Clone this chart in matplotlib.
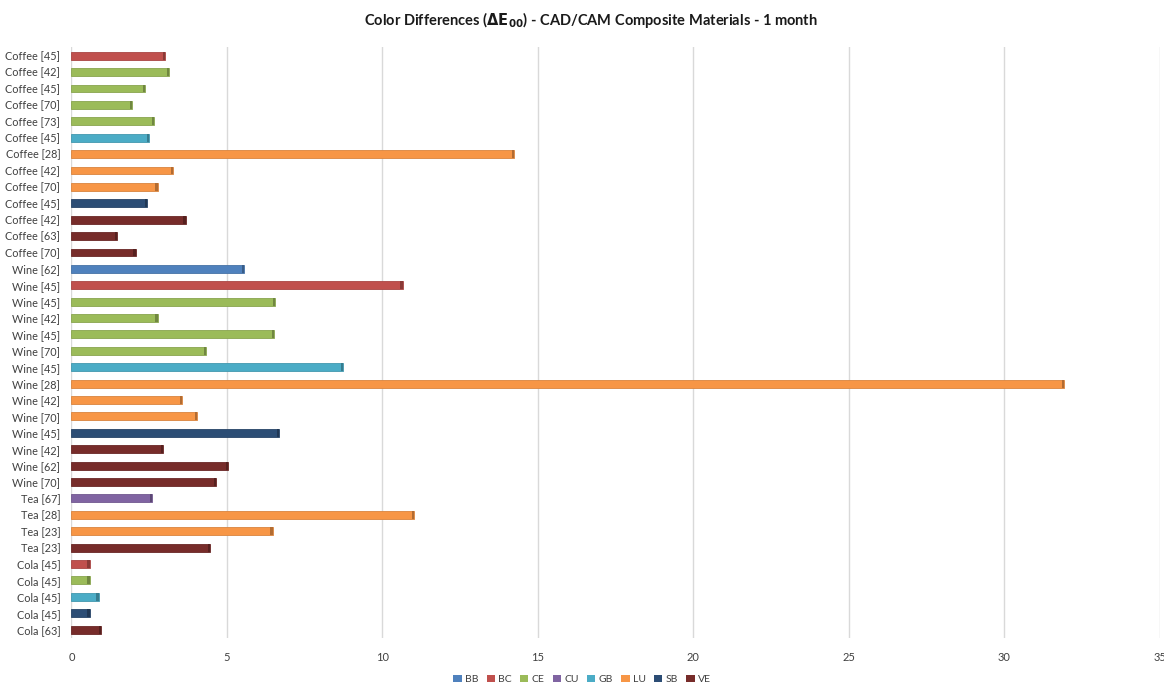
import matplotlib
matplotlib.use("Agg")
import matplotlib.pyplot as plt
from matplotlib.patches import Patch
from matplotlib.colors import to_rgb

plt.rcParams['font.family'] = ['Lato', 'DejaVu Sans']

# Staining solution [days] for each bar, top to bottom
labels = [
    "Coffee [45]", "Coffee [42]", "Coffee [45]", "Coffee [70]", "Coffee [73]",
    "Coffee [45]", "Coffee [28]", "Coffee [42]", "Coffee [70]", "Coffee [45]",
    "Coffee [42]", "Coffee [63]", "Coffee [70]",
    "Wine [62]", "Wine [45]", "Wine [45]", "Wine [42]", "Wine [45]", "Wine [70]",
    "Wine [45]", "Wine [28]", "Wine [42]", "Wine [70]", "Wine [45]", "Wine [42]",
    "Wine [62]", "Wine [70]",
    "Tea [67]", "Tea [28]", "Tea [23]", "Tea [23]",
    "Cola [45]", "Cola [45]", "Cola [45]", "Cola [45]", "Cola [63]",
]

# Material of each bar
materials = [
    "BC", "CE", "CE", "CE", "CE", "GB", "LU", "LU", "LU", "SB", "VE", "VE", "VE",
    "BB", "BC", "CE", "CE", "CE", "CE", "GB", "LU", "LU", "LU", "SB", "VE", "VE", "VE",
    "CU", "LU", "LU", "VE",
    "BC", "CE", "GB", "SB", "VE",
]

# Colour difference ΔE00 after 1 month
delta_e = [
    3.0, 3.15, 2.38, 1.96, 2.67, 2.5, 14.25, 3.28, 2.77, 2.44, 3.67, 1.48, 2.06,
    5.56, 10.65, 6.56, 2.77, 6.53, 4.34, 8.75, 31.92, 3.57, 4.05, 6.69, 2.96, 5.05, 4.66,
    2.6, 11.03, 6.47, 4.47,
    0.58, 0.58, 0.87, 0.58, 0.96,
]

series = ["BB", "BC", "CE", "CU", "GB", "LU", "SB", "VE"]
colors = {
    "BB": "#4F81BD", "BC": "#C0504D", "CE": "#9BBB59", "CU": "#8064A2",
    "GB": "#4BACC6", "LU": "#F79646", "SB": "#2C4D75", "VE": "#772C2A",
}


def shade(c, f):
    r, g, b = to_rgb(c)
    return (r * f, g * f, b * f)


fig = plt.figure(figsize=(11.64, 6.88), dpi=100)
ax = fig.add_axes([0.0614, 0.073, 0.9348, 0.858])

ys = list(range(len(labels)))
bar_h = 0.48
for y, v, m in zip(ys, delta_e, materials):
    col = colors[m]
    ax.barh(y, v, height=bar_h, color=col, edgecolor=shade(col, 0.88),
            linewidth=0.6, zorder=3)
    # darker end face for a bevelled look
    cap = min(0.07, v * 0.15)
    ax.barh(y, cap, left=v - cap, height=bar_h, color=shade(col, 0.72),
            linewidth=0, zorder=4)

ax.set_xlim(0, 35)
ax.set_ylim(len(labels) - 0.5, -0.5)
ax.set_xticks(range(0, 36, 5))
ax.set_yticks(ys)
ax.set_yticklabels(labels)
ax.tick_params(axis='both', length=0, colors="#404040")
ax.tick_params(axis='x', pad=10, labelsize=8)
ax.tick_params(axis='y', pad=8, labelsize=7.8)
ax.grid(axis='x', color="#D9D9D9", linewidth=1.0, zorder=0)
for s in ax.spines.values():
    s.set_visible(False)

fig.suptitle(r"Color Differences ($\mathbf{\Delta E_{00}}$) - CAD/CAM Composite Materials - 1 month",
             x=0.508, y=0.985, fontsize=10.5, fontweight='bold', color="#1a1a1a")

handles = [Patch(facecolor=colors[s], edgecolor='none', label=s) for s in series]
fig.legend(handles=handles, loc='lower center', ncol=len(series), frameon=False,
           fontsize=7.5, handlelength=0.8, handleheight=0.8, handletextpad=0.3,
           columnspacing=0.8, bbox_to_anchor=(0.5, -0.008), labelcolor="#404040")

fig.savefig("out.png", dpi=100)
